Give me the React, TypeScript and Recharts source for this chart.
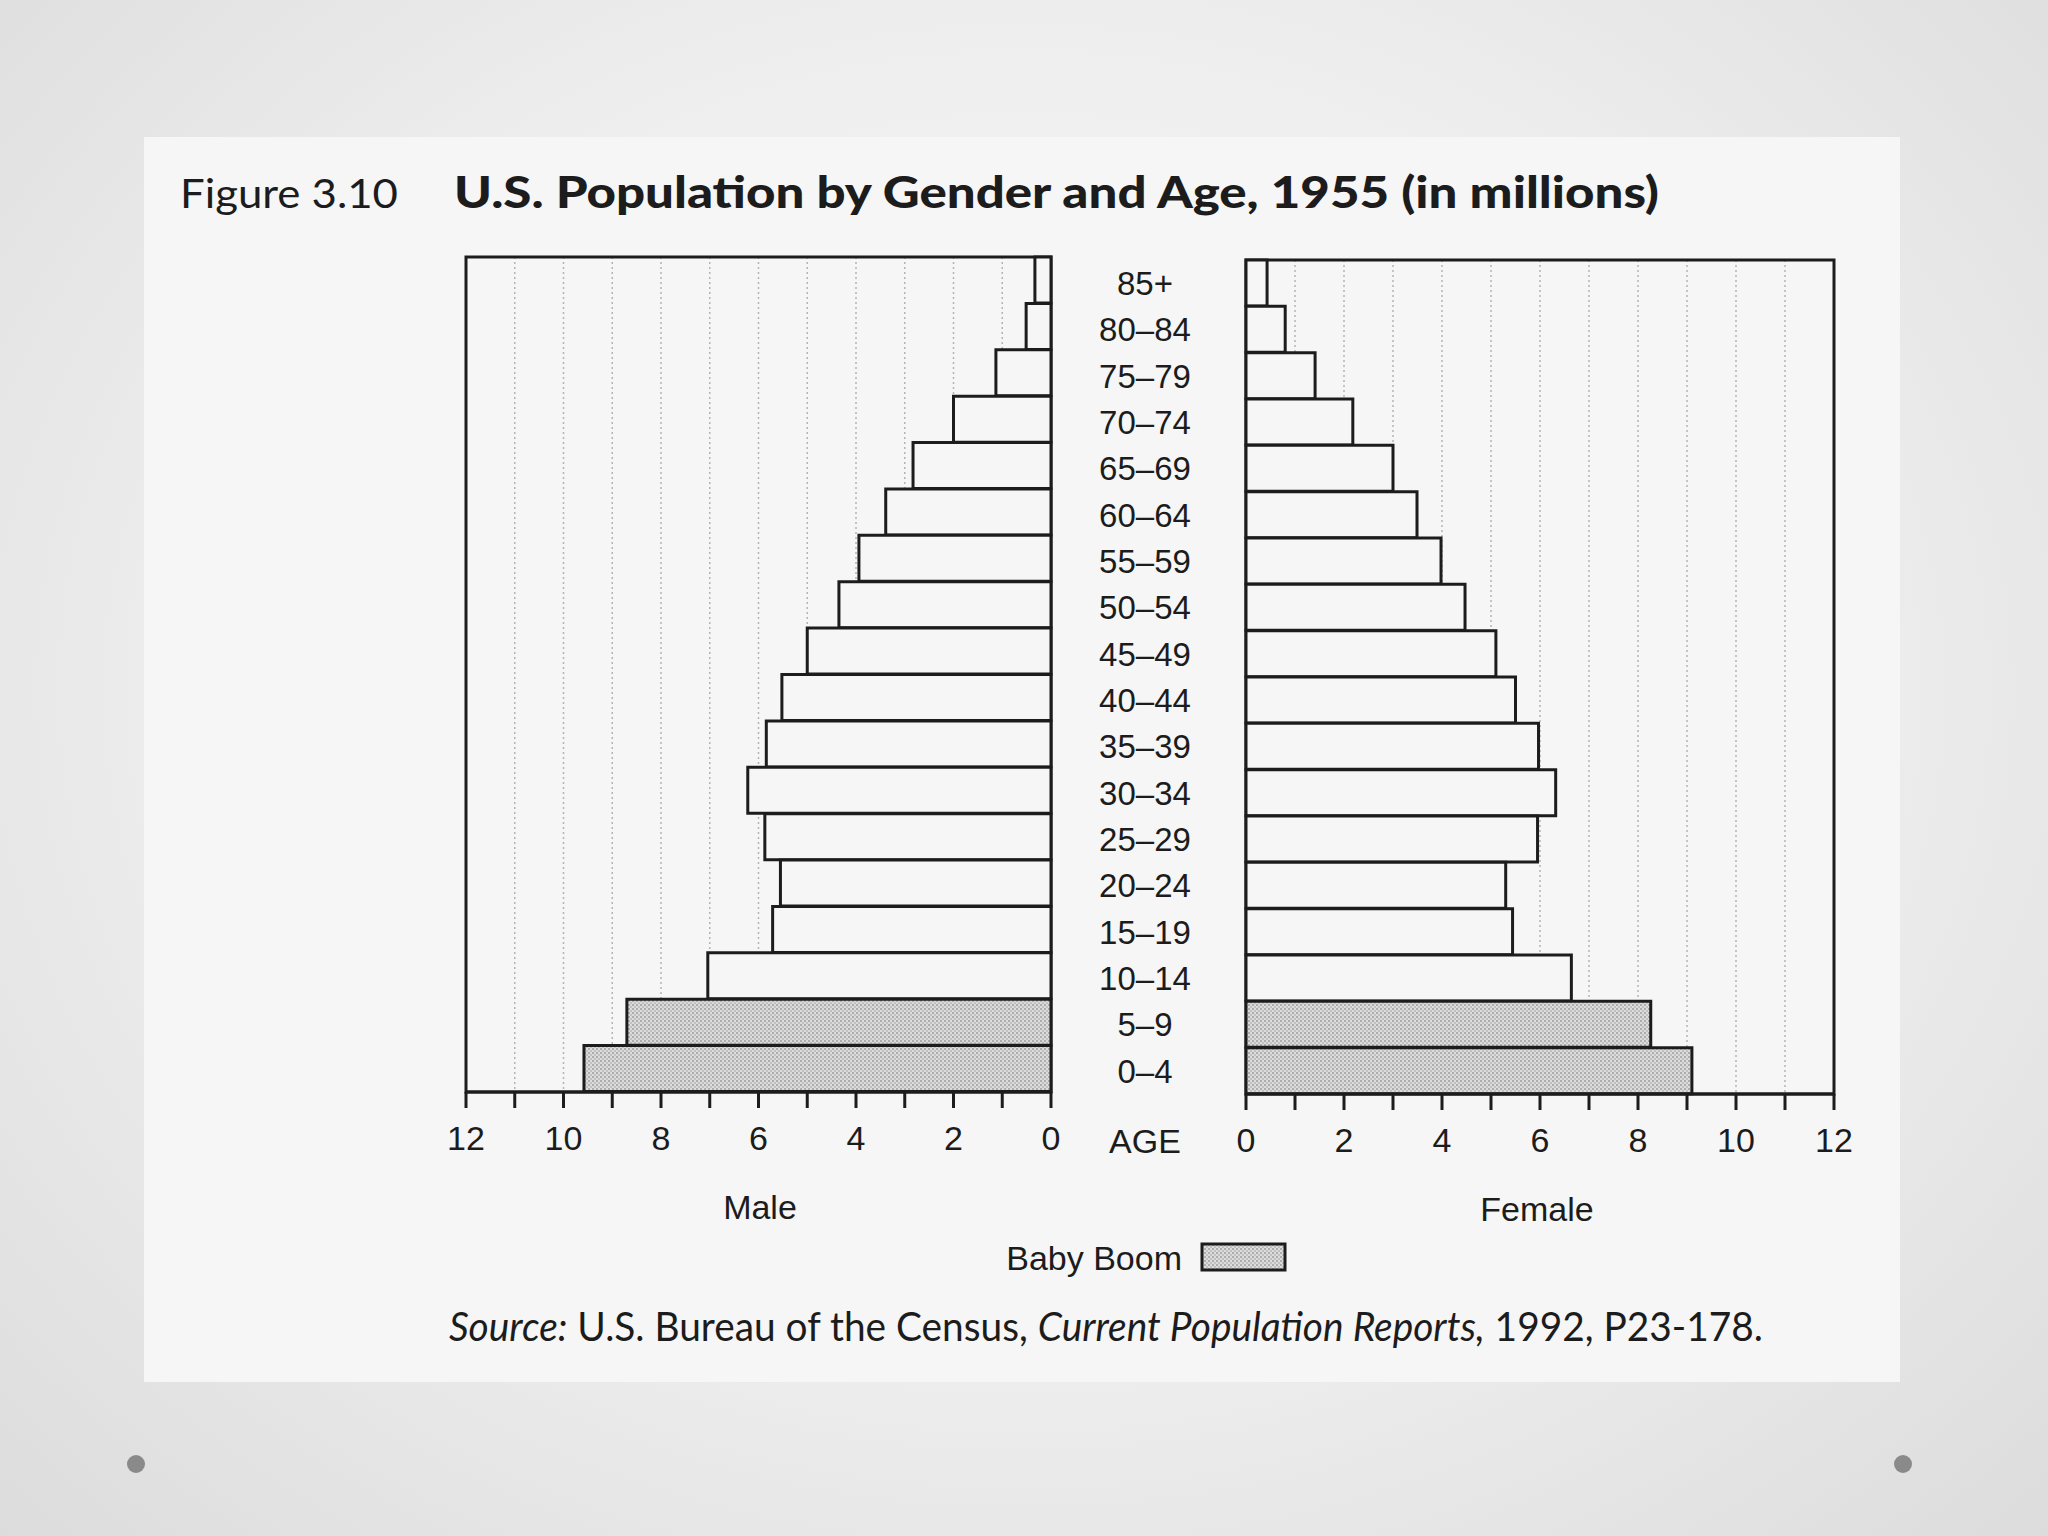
import { Bar, BarChart, CartesianGrid, Cell, ReferenceArea, XAxis, YAxis } from 'recharts'

// 1955 U.S. population, millions, top row = oldest
const AGES = [
  '85+', '80–84', '75–79', '70–74', '65–69', '60–64', '55–59', '50–54', '45–49',
  '40–44', '35–39', '30–34', '25–29', '20–24', '15–19', '10–14', '5–9', '0–4',
]
const MALE = [0.33, 0.51, 1.13, 2.0, 2.83, 3.39, 3.94, 4.35, 5.0, 5.52, 5.84, 6.22, 5.87, 5.55, 5.71, 7.04, 8.7, 9.58]
const FEMALE = [0.43, 0.8, 1.41, 2.18, 3.0, 3.49, 3.98, 4.47, 5.1, 5.5, 5.97, 6.32, 5.95, 5.3, 5.44, 6.64, 8.26, 9.1]
const BABY_BOOM = ['5–9', '0–4']
const TICKS = [0, 1, 2, 3, 4, 5, 6, 7, 8, 9, 10, 11, 12]

const FONT = '"Liberation Sans", Arial, sans-serif'
const TITLE_FONT = 'Lato, "Open Sans", sans-serif'
const INK = '#1c1c1c'
const PAPER = '#f6f6f6'
const AGE_OFFSET = 101
const LINE_W = 3

const data = AGES.map((age, i) => ({ age, male: MALE[i], female: FEMALE[i] }))

const evenOnly = (v: number) => (v % 2 === 0 ? String(v) : '')

function Stipple({ id }: { id: string }) {
  return (
    <pattern id={id} width={4} height={4} patternUnits="userSpaceOnUse">
      <rect width={4} height={4} fill="#dcdcdc" />
      <rect width={2} height={2} fill="#adadad" />
      <rect x={2} y={2} width={2} height={2} fill="#c0c0c0" />
    </pattern>
  )
}

function AgeTick(props: any) {
  const { x, y, payload } = props
  return (
    <text
      x={x - AGE_OFFSET}
      y={y}
      dy="0.36em"
      textAnchor="middle"
      fontSize={33}
      fontFamily={FONT}
      fill={INK}
    >
      {payload.value}
    </text>
  )
}

const axisTick = { fontSize: 34, fontFamily: FONT, fill: INK }
const axisStroke = { stroke: INK, strokeWidth: LINE_W }

function PyramidSide({ side }: { side: 'male' | 'female' }) {
  const isMale = side === 'male'
  const patternId = `stipple-${side}`
  return (
    <BarChart
      width={isMale ? 640 : 880}
      height={960}
      data={data}
      layout="vertical"
      barCategoryGap={0}
      barGap={0}
      margin={
        isMale
          ? { left: 26, right: 29, top: 17, bottom: 28 }
          : { left: 0, right: 66, top: 20, bottom: 26 }
      }
    >
      <defs>
        <Stipple id={patternId} />
      </defs>
      <CartesianGrid horizontal={false} stroke="#b4b4b4" strokeWidth={1.5} strokeDasharray="2 3" />
      <XAxis
        type="number"
        domain={[0, 12]}
        ticks={TICKS}
        reversed={isMale}
        height={80}
        tickFormatter={evenOnly}
        tickSize={16}
        tickMargin={18}
        axisLine={axisStroke}
        tickLine={axisStroke}
        tick={axisTick}
        interval={0}
      />
      {isMale ? (
        <YAxis type="category" dataKey="age" hide />
      ) : (
        <YAxis
          type="category"
          dataKey="age"
          width={226}
          axisLine={false}
          tickLine={false}
          tickSize={0}
          tickMargin={0}
          interval={0}
          tick={<AgeTick />}
        />
      )}
      <Bar dataKey={side} stroke={INK} strokeWidth={LINE_W} isAnimationActive={false}>
        {data.map((d) => (
          <Cell key={d.age} fill={BABY_BOOM.includes(d.age) ? `url(#${patternId})` : PAPER} />
        ))}
      </Bar>
      <ReferenceArea x1={0} x2={12} fill="none" fillOpacity={0} stroke={INK} strokeWidth={LINE_W} ifOverflow="visible" />
    </BarChart>
  )
}

export default function App() {
  return (
    <div
      style={{
        position: 'absolute',
        left: 0,
        top: 0,
        width: 2048,
        height: 1536,
        overflow: 'hidden',
        background: 'radial-gradient(ellipse at 50% 45%, #fbfbfb 0%, #eeeeee 55%, #dcdcdc 100%)',
      }}
    >
      <div style={{ position: 'absolute', left: 144, top: 137, width: 1756, height: 1245, background: PAPER }} />
      <svg width={2048} height={1536} style={{ position: 'absolute', left: 0, top: 0 }}>
        <defs>
          <Stipple id="stipple-legend" />
        </defs>
        <text x={180} y={208} fontFamily={TITLE_FONT} fontSize={40} fill={INK} textLength={218} lengthAdjust="spacingAndGlyphs">
          Figure 3.10
        </text>
        <text
          x={454}
          y={208}
          fontFamily={TITLE_FONT}
          fontWeight={900}
          fontSize={44}
          fill={INK}
          textLength={1205}
          lengthAdjust="spacingAndGlyphs"
        >
          U.S. Population by Gender and Age, 1955 (in millions)
        </text>
        <text x={1145} y={1153} textAnchor="middle" fontFamily={FONT} fontSize={34} fill={INK}>
          AGE
        </text>
        <text x={760} y={1219} textAnchor="middle" fontFamily={FONT} fontSize={34} fill={INK}>
          Male
        </text>
        <text x={1537} y={1221} textAnchor="middle" fontFamily={FONT} fontSize={34} fill={INK}>
          Female
        </text>
        <text x={1182} y={1270} textAnchor="end" fontFamily={FONT} fontSize={34} fill={INK}>
          Baby Boom
        </text>
        <rect x={1202} y={1244} width={83} height={26} fill="url(#stipple-legend)" stroke={INK} strokeWidth={LINE_W} />
        <text x={449} y={1341} fontFamily={TITLE_FONT} fontSize={40} fill={INK} textLength={1314} lengthAdjust="spacingAndGlyphs">
          <tspan fontStyle="italic">Source:</tspan>
          <tspan> U.S. Bureau of the Census, </tspan>
          <tspan fontStyle="italic">Current Population Reports,</tspan>
          <tspan> 1992, P23-178.</tspan>
        </text>
        <circle cx={136} cy={1464} r={9} fill="#8a8a8a" />
        <circle cx={1903} cy={1464} r={9} fill="#8a8a8a" />
      </svg>
      <div style={{ position: 'absolute', left: 440, top: 240 }}>
        <PyramidSide side="male" />
      </div>
      <div style={{ position: 'absolute', left: 1020, top: 240 }}>
        <PyramidSide side="female" />
      </div>
    </div>
  )
}
